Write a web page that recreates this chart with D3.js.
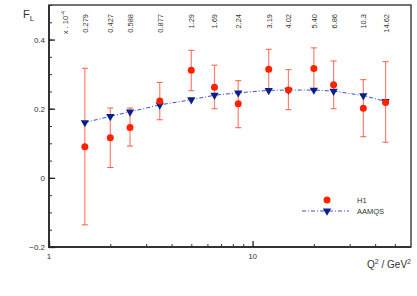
<!DOCTYPE html>
<html>
<head>
<meta charset="utf-8">
<script src="https://cdn.jsdelivr.net/npm/d3@7"></script>
<style>
  body { margin: 0; background: #fff; }
  svg text { font-family: "Liberation Sans", Arial, sans-serif; fill: #333; }
</style>
</head>
<body>
<div id="chart"></div>
<script>
var width = 417,
    height = 296;

// data
var q2 = [1.5, 2, 2.5, 3.5, 5, 6.5, 8.5, 12, 15, 20, 25, 35, 45];
var xLabels = ['0.279', '0.427', '0.588', '0.877', '1.29', '1.69', '2.24', '3.19', '4.02', '5.40', '6.86', '10.3', '14.62'];
var h1 = [0.090, 0.116, 0.146, 0.222, 0.311, 0.262, 0.214, 0.314, 0.254, 0.316, 0.269, 0.201, 0.218];
var h1Hi = [0.317, 0.202, 0.202, 0.276, 0.369, 0.326, 0.281, 0.372, 0.313, 0.376, 0.338, 0.284, 0.336];
var h1Lo = [-0.136, 0.030, 0.092, 0.168, 0.252, 0.200, 0.145, 0.253, 0.197, 0.253, 0.200, 0.119, 0.103];
var aamqs = [0.160, 0.178, 0.191, 0.211, 0.226, 0.239, 0.246, 0.253, 0.254, 0.254, 0.251, 0.238, 0.221];
var yMajor = [-0.2, 0, 0.2, 0.4];

var margin = {left: 49, top: 5, right: 6, bottom: 49};

var svg = d3.select('#chart')
    .append('svg')
    .attr('width', width)
    .attr('height', height);

var x = d3.scaleLog()
    .domain([1, 60])
    .range([margin.left, width - margin.right]);

var y = d3.scaleLinear()
    .domain([-0.2, 0.5])
    .range([height - margin.bottom, margin.top]);

// frame
svg.append('rect')
    .attr('x', x(1))
    .attr('y', y(0.5))
    .attr('width', x(60) - x(1))
    .attr('height', y(-0.2) - y(0.5))
    .attr('fill', 'none')
    .attr('stroke', '#444')
    .attr('stroke-width', 1.5);
// heavier left and bottom axis lines
svg.append('path')
    .attr('d', 'M' + x(1) + ',' + y(0.5) + 'V' + y(-0.2) + 'H' + x(60))
    .attr('fill', 'none')
    .attr('stroke', '#333')
    .attr('stroke-width', 2);

// y axis: major ticks and minor ticks, drawn inward
var yAxis = svg.append('g')
    .attr('transform', 'translate(' + x(1) + ',0)')
    .call(d3.axisRight(y).tickValues(d3.range(-0.2, 0.501, 0.05)).tickSize(3).tickFormat(''));
yAxis.select('.domain').remove();
yAxis.selectAll('line').attr('stroke', '#333');

var yMaj = svg.append('g')
    .attr('transform', 'translate(' + x(1) + ',0)')
    .call(d3.axisRight(y).tickValues(yMajor).tickSize(6).tickFormat(''));
yMaj.select('.domain').remove();
yMaj.selectAll('line').attr('stroke', '#222').attr('stroke-width', 1.3);

svg.selectAll('.ylab')
    .data(yMajor)
    .enter()
    .append('text')
    .attr('x', x(1) - 4)
    .attr('y', function(d) { return y(d) + 3; })
    .attr('text-anchor', 'end')
    .attr('font-size', 8)
    .text(function(d) { return d === 0 ? '0' : d3.format('.1f')(d); });

// x axis ticks, drawn upward
var xMinor = [2, 3, 4, 5, 6, 7, 8, 9, 20, 30, 40, 50];
var xAxis = svg.append('g')
    .attr('transform', 'translate(0,' + y(-0.2) + ')')
    .call(d3.axisTop(x).tickValues(xMinor).tickSize(3).tickFormat(''));
xAxis.select('.domain').remove();
xAxis.selectAll('line').attr('stroke', '#333');

var xMaj = svg.append('g')
    .attr('transform', 'translate(0,' + y(-0.2) + ')')
    .call(d3.axisTop(x).tickValues([1, 10]).tickSize(6).tickFormat(''));
xMaj.select('.domain').remove();
xMaj.selectAll('line').attr('stroke', '#222').attr('stroke-width', 1.3);

svg.selectAll('.xlab')
    .data([1, 10])
    .enter()
    .append('text')
    .attr('x', function(d) { return x(d); })
    .attr('y', y(-0.2) + 12)
    .attr('text-anchor', 'middle')
    .attr('font-size', 8)
    .text(function(d) { return d; });

// axis titles
var xt = svg.append('text')
    .attr('x', width - 6)
    .attr('y', 268)
    .attr('text-anchor', 'end')
    .attr('font-size', 10);
xt.append('tspan').text('Q');
xt.append('tspan').attr('dy', -4).attr('font-size', 7).text('2');
xt.append('tspan').attr('dy', 4).text(' / GeV');
xt.append('tspan').attr('dy', -4).attr('font-size', 7).text('2');

var yt = svg.append('text')
    .attr('x', 23)
    .attr('y', 18)
    .attr('font-size', 11);
yt.append('tspan').text('F');
yt.append('tspan').attr('dy', 3).attr('font-size', 8).text('L');

// x-value labels along the top
svg.selectAll('.toplab')
    .data(xLabels)
    .enter()
    .append('text')
    .attr('transform', function(d, i) { return 'translate(' + (x(q2[i]) + 3) + ',14) rotate(-90)'; })
    .attr('text-anchor', 'end')
    .attr('font-size', 7.5)
    .text(function(d) { return d; });

var unit = svg.append('text')
    .attr('transform', 'translate(' + (x(1.2) + 3) + ',11) rotate(-90)')
    .attr('text-anchor', 'end')
    .attr('font-size', 7.5);
unit.append('tspan').text('x . 10');
unit.append('tspan').attr('dy', -3).attr('font-size', 5.5).text('-4');

// AAMQS curve
var line = d3.line()
    .x(function(d, i) { return x(q2[i]); })
    .y(function(d) { return y(d); });

svg.append('path')
    .datum(aamqs)
    .attr('d', line)
    .attr('fill', 'none')
    .attr('stroke', '#3a4fc8')
    .attr('stroke-width', 1)
    .attr('stroke-dasharray', '4,2,1,2');

// H1 error bars
var errColor = '#ff8070';
var bars = svg.selectAll('.err')
    .data(h1)
    .enter()
    .append('g');
bars.append('line')
    .attr('x1', function(d, i) { return x(q2[i]); })
    .attr('x2', function(d, i) { return x(q2[i]); })
    .attr('y1', function(d, i) { return y(h1Lo[i]); })
    .attr('y2', function(d, i) { return y(h1Hi[i]); })
    .attr('stroke', errColor)
    .attr('stroke-width', 1.2);
[h1Lo, h1Hi].forEach(function(arr) {
    bars.append('line')
        .attr('x1', function(d, i) { return x(q2[i]) - 3; })
        .attr('x2', function(d, i) { return x(q2[i]) + 3; })
        .attr('y1', function(d, i) { return y(arr[i]); })
        .attr('y2', function(d, i) { return y(arr[i]); })
        .attr('stroke', '#ff5a40')
        .attr('stroke-width', 1);
});

// AAMQS triangles
var tri = d3.symbol().type(d3.symbolTriangle).size(30);
svg.selectAll('.tri')
    .data(aamqs)
    .enter()
    .append('path')
    .attr('d', tri)
    .attr('transform', function(d, i) { return 'translate(' + x(q2[i]) + ',' + y(d) + ') rotate(180)'; })
    .attr('fill', '#0a1f8f');

// H1 points
svg.selectAll('.pt')
    .data(h1)
    .enter()
    .append('circle')
    .attr('cx', function(d, i) { return x(q2[i]); })
    .attr('cy', function(d) { return y(d); })
    .attr('r', 3.5)
    .attr('fill', '#ff2200');

// legend
svg.append('circle')
    .attr('cx', 327)
    .attr('cy', 200)
    .attr('r', 3.5)
    .attr('fill', '#ff2200');
svg.append('text')
    .attr('x', 357)
    .attr('y', 203)
    .attr('font-size', 7.5)
    .text('H1');
svg.append('line')
    .attr('x1', 302)
    .attr('x2', 349)
    .attr('y1', 211)
    .attr('y2', 211)
    .attr('stroke', '#3a4fc8')
    .attr('stroke-width', 1)
    .attr('stroke-dasharray', '4,2,1,2');
svg.append('path')
    .attr('d', tri)
    .attr('transform', 'translate(327,211) rotate(180)')
    .attr('fill', '#0a1f8f');
svg.append('text')
    .attr('x', 357)
    .attr('y', 214)
    .attr('font-size', 7.5)
    .text('AAMQS');
</script>
</body>
</html>
